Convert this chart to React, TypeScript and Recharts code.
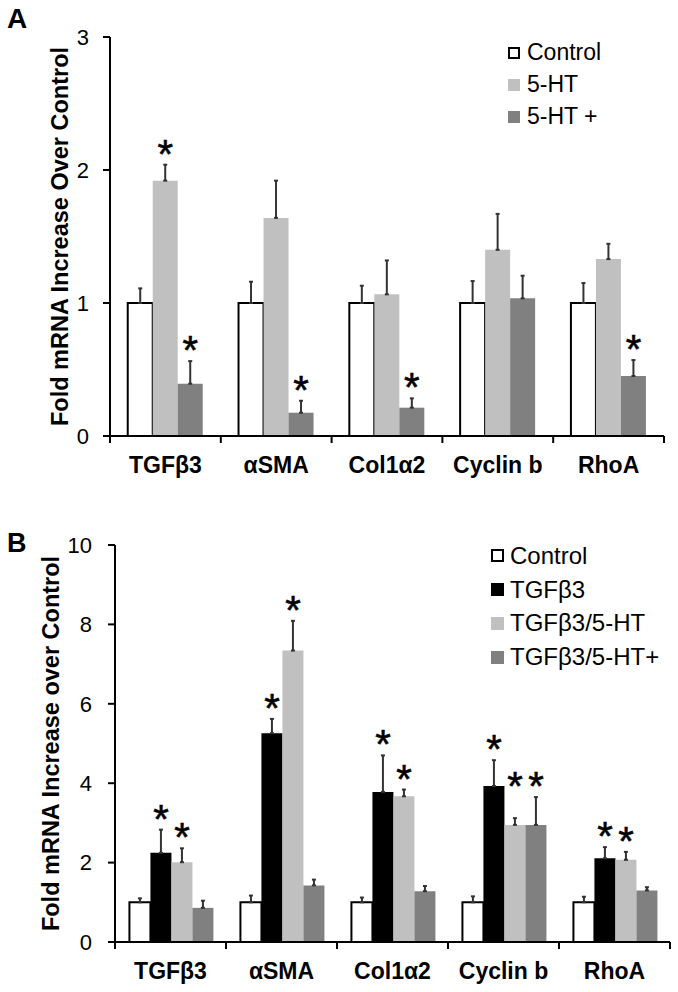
import React from 'react';
import { BarChart, Bar, XAxis, YAxis, ErrorBar, LabelList, Legend } from 'recharts';

const FONT = '"Liberation Sans", Arial, Helvetica, sans-serif';

// ---------- shared categories ----------
const categories = ['TGFβ3', 'αSMA', 'Col1α2', 'Cyclin b', 'RhoA'];

// ---------- Panel A ----------
const aTicks = [0, 1, 2, 3];
const aControl = [1, 1, 1, 1, 1];
const aControlErr = [0.11, 0.16, 0.13, 0.165, 0.15];
const aHT = [1.92, 1.64, 1.065, 1.4, 1.33];
const aHTErr = [0.12, 0.28, 0.255, 0.27, 0.115];
const aHTPlus = [0.393, 0.175, 0.213, 1.035, 0.451];
const aHTPlusErr = [0.17, 0.09, 0.07, 0.17, 0.12];
const aHTStar = [true, false, false, false, false];
const aHTPlusStar = [true, true, true, false, true];

// ---------- Panel B ----------
const bTicks = [0, 2, 4, 6, 8, 10];
const bControl = [1, 1, 1, 1, 1];
const bControlErr = [0.1, 0.17, 0.12, 0.15, 0.14];
const bTGF = [2.245, 5.26, 3.78, 3.93, 2.11];
const bTGFErr = [0.585, 0.36, 0.92, 0.65, 0.28];
const bTGFHT = [2.01, 7.34, 3.67, 2.95, 2.07];
const bTGFHTErr = [0.35, 0.75, 0.17, 0.17, 0.2];
const bTGFHTPlus = [0.86, 1.426, 1.28, 2.95, 1.3];
const bTGFHTPlusErr = [0.18, 0.145, 0.13, 0.7, 0.08];
const bTGFStar = [true, true, true, true, true];
const bTGFHTStar = [true, true, true, true, true];
const bTGFHTPlusStar = [false, false, false, true, false];
// star of Cyclin b TGFβ3/5-HT sits level with its neighbour's star (value level)
const bTGFHTStarLevel = [null, null, null, 3.65, null];

type Series = {
  key: string;
  name: string;
  fill: string;
  stroke?: string;
  values: number[];
  errs: number[];
  stars: boolean[];
  levels?: (number | null)[];
};

const seriesA: Series[] = [
  { key: 'c', name: 'Control', fill: '#ffffff', stroke: '#000000', values: aControl, errs: aControlErr, stars: [false, false, false, false, false] },
  { key: 'h', name: '5-HT', fill: '#c0c0c0', values: aHT, errs: aHTErr, stars: aHTStar },
  { key: 'p', name: '5-HT +', fill: '#808080', values: aHTPlus, errs: aHTPlusErr, stars: aHTPlusStar },
];

const seriesB: Series[] = [
  { key: 'c', name: 'Control', fill: '#ffffff', stroke: '#000000', values: bControl, errs: bControlErr, stars: [false, false, false, false, false] },
  { key: 't', name: 'TGFβ3', fill: '#000000', values: bTGF, errs: bTGFErr, stars: bTGFStar },
  { key: 'h', name: 'TGFβ3/5-HT', fill: '#c0c0c0', values: bTGFHT, errs: bTGFHTErr, stars: bTGFHTStar, levels: bTGFHTStarLevel },
  { key: 'p', name: 'TGFβ3/5-HT+', fill: '#808080', values: bTGFHTPlus, errs: bTGFHTPlusErr, stars: bTGFHTPlusStar },
];

const buildRows = (series: Series[]) =>
  categories.map((name, i) => {
    const row: any = { name };
    series.forEach((s) => {
      row[s.key] = s.values[i];
      row[s.key + 'e'] = [0, s.errs[i]];
    });
    return row;
  });

const rowsA = buildRows(seriesA);
const rowsB = buildRows(seriesB);

const STAR_GAP = 20;
const STAR_SIZE = 40;

const makeStar = (s: Series) => (props: any) => {
  const vb = props.viewBox || props;
  const index = props.index;
  if (index == null || !s.stars[index]) return null;
  const x = Number(vb.x);
  const y = Number(vb.y);
  const w = Number(vb.width);
  const h = Math.abs(Number(vb.height));
  const v = s.values[index];
  const ppu = h / v;
  const base = y + h;
  const lvl = (s.levels && s.levels[index] != null ? (s.levels[index] as number) : v + s.errs[index]);
  const topPx = base - lvl * ppu;
  const cy = topPx - STAR_GAP;
  return (
    <text
      x={x + w / 2}
      y={cy + STAR_SIZE * 0.575}
      textAnchor="middle"
      fontFamily={FONT}
      fontSize={STAR_SIZE}
      fill="#000"
      stroke="#000"
      strokeWidth={0.6}
    >
      *
    </text>
  );
};

const makeXTick = (bw: number) => (props: any) => {
  const { x, y, payload, index } = props;
  const last = index === categories.length - 1;
  return (
    <g>
      <line x1={x - bw / 2} x2={x - bw / 2} y1={y} y2={y + 7} stroke="#000" strokeWidth={2} />
      {last && <line x1={x + bw / 2} x2={x + bw / 2} y1={y} y2={y + 7} stroke="#000" strokeWidth={2} />}
      <text
        x={x}
        y={y + 37}
        textAnchor="middle"
        fontFamily={FONT}
        fontSize={23}
        fontWeight="bold"
        fill="#000"
      >
        {payload.value}
      </text>
    </g>
  );
};

const makeYLabel = (text: string, cx: number) => (props: any) => {
  const vb = props.viewBox || {};
  const cy = Number(vb.y) + Number(vb.height) / 2;
  return (
    <text
      x={cx}
      y={cy}
      transform={`rotate(-90, ${cx}, ${cy})`}
      textAnchor="middle"
      dominantBaseline="central"
      fontFamily={FONT}
      fontSize={23.5}
      fontWeight="bold"
      fill="#000"
    >
      {text}
    </text>
  );
};

const makeLegend = (series: Series[], sq: number, rowH: number, gap: number, fs: number) => () => (
  <div style={{ fontFamily: FONT, fontSize: fs, color: '#000', lineHeight: 1 }}>
    {series.map((s) => (
      <div key={s.key} style={{ display: 'flex', alignItems: 'center', height: rowH, whiteSpace: 'nowrap' }}>
        <span
          style={{
            display: 'inline-block',
            width: sq,
            height: sq,
            boxSizing: 'border-box',
            background: s.fill,
            border: s.stroke ? `2px solid ${s.stroke}` : 'none',
            marginRight: gap,
          }}
        />
        <span>{s.name}</span>
      </div>
    ))}
  </div>
);

const axisStroke = { stroke: '#000', strokeWidth: 2 };

const PanelChart = ({
  rows,
  series,
  height,
  margin,
  yWidth,
  domain,
  ticks,
  label,
  labelX,
  catGap,
  bw,
  legendPos,
  legendSq,
  legendRow,
  legendGap,
  legendFont,
  tickMargin,
}: any) => (
  <BarChart
    width={678}
    height={height}
    data={rows}
    margin={margin}
    barGap={0}
    barCategoryGap={catGap}
  >
    <XAxis
      dataKey="name"
      axisLine={axisStroke}
      tickLine={false}
      tickSize={0}
      tickMargin={0}
      interval={0}
      height={margin.xh}
      tick={makeXTick(bw)}
    />
    <YAxis
      type="number"
      domain={domain}
      ticks={ticks}
      interval={0}
      width={yWidth}
      axisLine={axisStroke}
      tickLine={axisStroke}
      tickSize={7}
      tickMargin={tickMargin}
      tick={{ fill: '#000', fontSize: 22, fontFamily: FONT }}
      label={{ content: makeYLabel(label, labelX) }}
    />
    <Legend
      layout="vertical"
      align="center"
      verticalAlign="middle"
      wrapperStyle={{ left: legendPos.left, top: legendPos.top, width: 185 }}
      content={makeLegend(series, legendSq, legendRow, legendGap, legendFont)}
    />
    {series.map((s: Series) => (
      <Bar
        key={s.key}
        dataKey={s.key}
        name={s.name}
        fill={s.fill}
        stroke={s.stroke || 'none'}
        strokeWidth={s.stroke ? 2 : 0}
        isAnimationActive={false}
      >
        <ErrorBar dataKey={s.key + 'e'} direction="y" width={2} stroke="#333" strokeWidth={2} />
        <LabelList dataKey={s.key} content={makeStar(s)} />
      </Bar>
    ))}
  </BarChart>
);

export default function App() {
  return (
    <div style={{ position: 'absolute', left: 0, top: 0, width: 678, height: 992, background: '#fff', overflow: 'hidden' }}>
      <div
        style={{
          position: 'absolute',
          left: 7,
          top: 4.75,
          fontFamily: FONT,
          fontWeight: 'bold',
          fontSize: 28,
          lineHeight: '28px',
          color: '#000',
        }}
      >
        A
      </div>
      <div
        style={{
          position: 'absolute',
          left: 7,
          top: 529.6,
          fontFamily: FONT,
          fontWeight: 'bold',
          fontSize: 27,
          lineHeight: '27px',
          color: '#000',
        }}
      >
        B
      </div>
      <div style={{ position: 'absolute', left: 0, top: 0 }}>
        <PanelChart
          rows={rowsA}
          series={seriesA}
          height={490}
          margin={{ top: 37, right: 14, left: 0, bottom: 0, xh: 54 }}
          yWidth={110}
          domain={[0, 3]}
          ticks={aTicks}
          label="Fold mRNA Increase Over Control"
          labelX={60}
          catGap="16%"
          bw={(678 - 14 - 110) / 5}
          legendPos={{ left: 508, top: 36.7 }}
          legendSq={12}
          legendRow={32}
          legendGap={7}
          legendFont={23}
          tickMargin={14}
        />
      </div>
      <div style={{ position: 'absolute', left: 0, top: 490 }}>
        <PanelChart
          rows={rowsB}
          series={seriesB}
          height={502}
          margin={{ top: 55, right: 8, left: 0, bottom: 0, xh: 50 }}
          yWidth={115}
          domain={[0, 10]}
          ticks={bTicks}
          label="Fold mRNA Increase over Control"
          labelX={51}
          catGap="13%"
          bw={(678 - 8 - 115) / 5}
          legendPos={{ left: 491, top: 48.7 }}
          legendSq={13}
          legendRow={33.9}
          legendGap={6}
          legendFont={24}
          tickMargin={16}
        />
      </div>
    </div>
  );
}
